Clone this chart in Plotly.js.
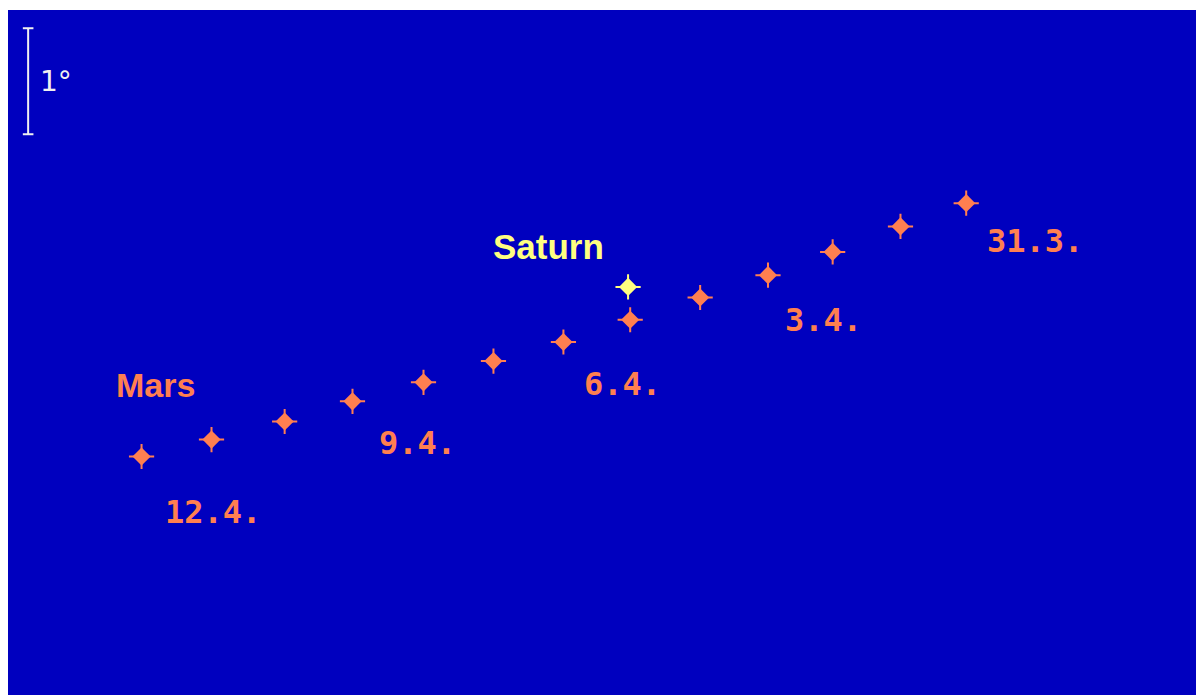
<!DOCTYPE html>
<html><head><meta charset="utf-8">
<script src="https://cdn.plot.ly/plotly-3.0.1.min.js"></script>
<style>html,body{margin:0;padding:0;background:#fff;}</style>
</head><body>
<div id="chart" style="width:1196px;height:695px;"></div>
<script>
// Positions in degrees (1 unit = 1 degree on the sky)
const marsDates = ["12.4.","11.4.","10.4.","9.4.","8.4.","7.4.","6.4.","5.4.","4.4.","3.4.","2.4.","1.4.","31.3."];
const marsX = [1.26,1.92,2.61,3.25,3.92,4.58,5.24,5.87,6.53,7.17,7.78,8.42,9.04];
const marsY = [2.25,2.41,2.58,2.77,2.95,3.15,3.33,3.54,3.75,3.96,4.18,4.42,4.64];
const saturnX = [5.85];
const saturnY = [3.85];
const dateLabels = ["12.4.","9.4.","6.4.","3.4.","31.3."];
const dateLabelX = [1.93,3.86,5.80,7.69,9.69];
const dateLabelY = [1.73,2.38,2.93,3.54,4.28];
const nameLabels = ["Mars","Saturn"];
const nameLabelX = [1.39,5.10];
const nameLabelY = [2.92,4.23];
const scaleBarX = 0.19;
const scaleBarY = [5.29,6.29];
const scaleLabel = "1°";

const coral = "#FF7F50";
const yellow = "#FFFF80";

function starTraces(xs, ys, color, txt) {
  return [
    {x: xs, y: ys, text: txt, mode: "markers", type: "scatter", hoverinfo: txt ? "text" : "skip",
     marker: {symbol: "cross-thin-open", size: 18, color: color, line: {width: 2, color: color}}},
    {x: xs, y: ys, mode: "markers", type: "scatter", hoverinfo: "skip",
     marker: {symbol: "diamond", size: 14, color: color, line: {width: 0}}}
  ];
}

const traces = [].concat(starTraces(marsX, marsY, coral, marsDates), starTraces(saturnX, saturnY, yellow, null));

const annotations = [];
dateLabels.forEach((t, i) => annotations.push({
  x: dateLabelX[i], y: dateLabelY[i], text: t, showarrow: false,
  font: {family: "DejaVu Sans Mono", size: 32, color: coral, weight: "bold"}
}));
const nameColors = [coral, yellow];
const nameSizes = [34, 35];
nameLabels.forEach((t, i) => annotations.push({
  x: nameLabelX[i], y: nameLabelY[i], text: t, showarrow: false,
  font: {family: "Liberation Sans", size: nameSizes[i], color: nameColors[i], weight: "bold"}
}));
annotations.push({x: scaleBarX + 0.09, y: (scaleBarY[0] + scaleBarY[1]) / 2, text: scaleLabel,
  showarrow: false, xanchor: "left", font: {family: "DejaVu Sans", size: 28, color: "#F0F0F0"}});

const lineStyle = {color: "#F0F0F0", width: 2};
const shapes = [
  {type: "line", x0: scaleBarX, x1: scaleBarX, y0: scaleBarY[0], y1: scaleBarY[1], line: lineStyle},
  {type: "line", x0: scaleBarX - 0.05, x1: scaleBarX + 0.05, y0: scaleBarY[0], y1: scaleBarY[0], line: lineStyle},
  {type: "line", x0: scaleBarX - 0.05, x1: scaleBarX + 0.05, y0: scaleBarY[1], y1: scaleBarY[1], line: lineStyle}
];

const layout = {
  width: 1196, height: 695,
  margin: {l: 8, r: 0, t: 10, b: 0, pad: 0},
  paper_bgcolor: "#FFFFFF",
  plot_bgcolor: "#0000BF",
  showlegend: false,
  xaxis: {range: [0, 11.208], visible: false, fixedrange: true},
  yaxis: {range: [0, 6.462], visible: false, fixedrange: true},
  annotations: annotations,
  shapes: shapes
};

Plotly.newPlot("chart", traces, layout, {displayModeBar: false, staticPlot: true});
</script>
</body></html>
